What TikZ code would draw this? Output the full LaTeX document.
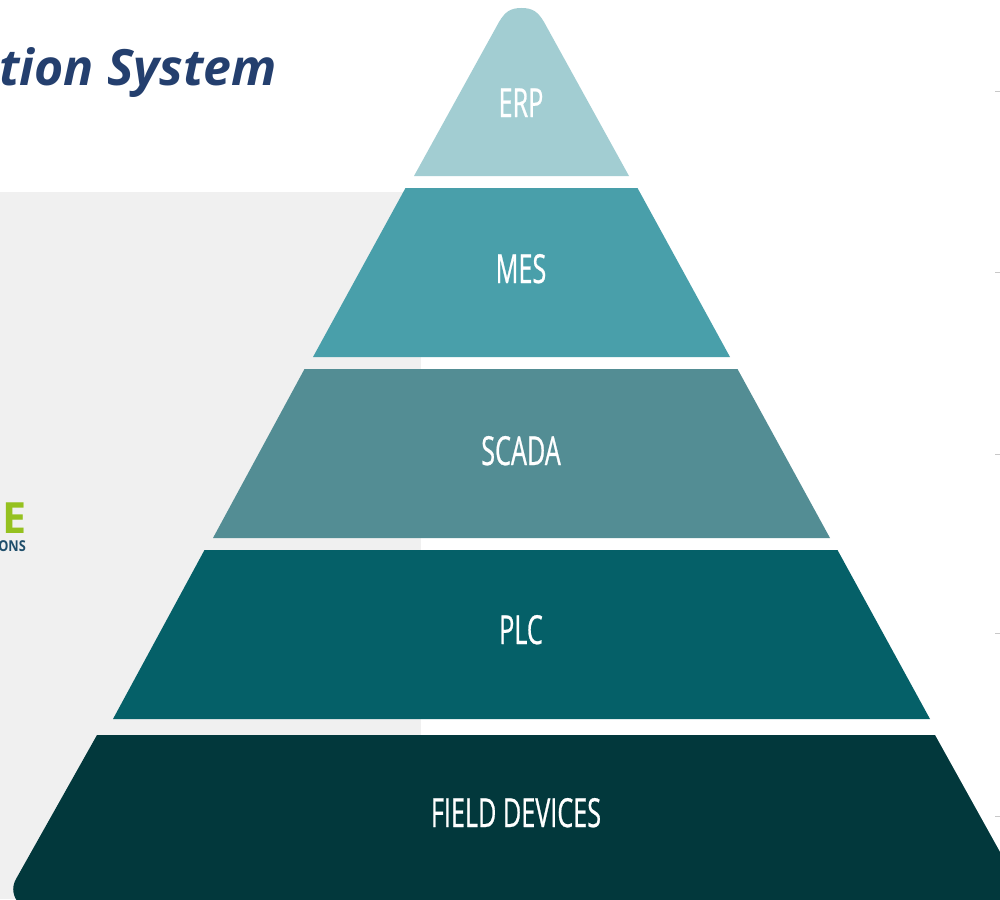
\documentclass[tikz,border=0pt]{standalone}
\usepackage{fontspec}
\setmainfont{Open Sans}
\newfontfamily\labelfont[FakeStretch=0.63,FakeBold=0.6]{Open Sans}
\newfontfamily\titlefont{Open Sans}
\newfontfamily\logofont[FakeStretch=0.85]{Open Sans}
\definecolor{panelgrey}{HTML}{F0F0F0}
\definecolor{titleblue}{HTML}{243F6E}
\definecolor{erpc}{HTML}{A2CDD2}
\definecolor{mesc}{HTML}{499FAA}
\definecolor{scadac}{HTML}{538D94}
\definecolor{plcc}{HTML}{056068}
\definecolor{fieldc}{HTML}{02383C}
\definecolor{logogreen}{HTML}{95C11F}
\definecolor{logoblue}{HTML}{1F4E6B}
\definecolor{tickc}{HTML}{C8C8C8}
\tikzset{
  lvl/.style={text=white,font=\labelfont\fontsize{40}{40}\selectfont,inner sep=0pt,anchor=base},
  tickmark/.style={draw=tickc,line width=1pt},
}
\begin{document}
\begin{tikzpicture}[x=1pt,y=-1pt]
\useasboundingbox (0,0) rectangle (1000,899);
\clip (0,0) rectangle (1000,899);
\fill[white] (0,0) rectangle (1000,899);
\fill[panelgrey] (0,192) rectangle (421,899);
\node[anchor=base east,inner sep=0pt,text=titleblue,font=\titlefont\fontsize{50}{50}\selectfont\bfseries\itshape] (title) at (277,85.5) {tion System};
\node[anchor=base east,inner sep=0pt,text=logogreen,font=\fontsize{43}{43}\selectfont\bfseries] (logoa) at (27,533) {E};
\node[anchor=base east,inner sep=0pt,text=logoblue,font=\logofont\fontsize{15}{15}\selectfont\bfseries] (logob) at (26,551.5) {ONS};
\fill[erpc] (414,176) -- (499,22) .. controls (505,12) and (510,8) .. (521.5,8) .. controls (533,8) and (538,12) .. (544,22) -- (629,176) -- cycle;
\fill[mesc] (405.5,188) -- (637.5,188) -- (730,357) -- (313,357) -- cycle;
\fill[scadac] (304.5,369) -- (737.5,369) -- (830,538) -- (213,538) -- cycle;
\fill[plcc] (204.5,550) -- (837.5,550) -- (930,719) -- (113,719) -- cycle;
\fill[fieldc] (97,735) -- (935,735) -- (1010,870) -- (1010,905) -- (20,905) .. controls (13,897) and (11,888) .. (16,879) -- cycle;
\node[lvl] (erp) at (521,117) {ERP};
\node[lvl] (mes) at (521,283) {MES};
\node[lvl] (scada) at (521,465) {SCADA};
\node[lvl] (plc) at (521,644) {PLC};
\node[lvl] (field) at (516,827) {FIELD DEVICES};
\foreach \y in {91,272,454,633,816} \draw[tickmark] (995,\y) -- (1000,\y);
\end{tikzpicture}
\end{document}
